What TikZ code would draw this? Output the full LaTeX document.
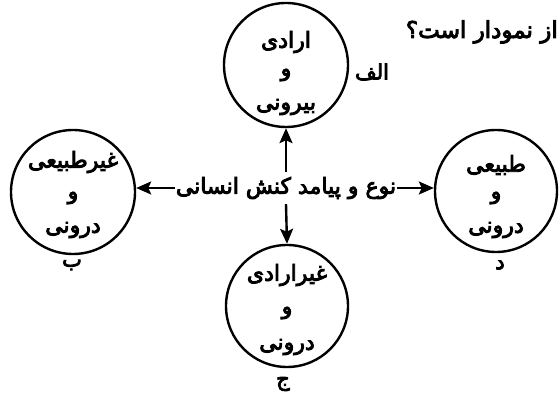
\documentclass[tikz,border=0pt]{standalone}
\usepackage{fontspec}
\TeXXeTstate=1
\newfontfamily\arfont[Script=Arabic,FakeBold=4]{DejaVu Sans}
\usetikzlibrary{arrows.meta}
\newcommand{\ar}[1]{\arfont\beginR #1\endR}
\begin{document}
\begin{tikzpicture}[x=1pt,y=1pt,
  circ/.style={draw,line width=2.4pt,circle,minimum size=#1,inner sep=0pt},
  txt/.style={inner sep=0pt,font=\fontsize{22}{24}\selectfont},
  lbl/.style={inner sep=0pt,font=\fontsize{21}{23}\selectfont},
  arr/.style={line width=2.4pt,-{Stealth[length=15pt,width=13pt,inset=3pt]}}]
\useasboundingbox (0,0) rectangle (559,398);
\fill[white] (0,0) rectangle (559,398);
% circles
\node[circ=124pt] (top) at (286,333) {};
\node[circ=124pt] (left) at (73,206) {};
\node[circ=122pt] (right) at (496,207) {};
\node[circ=122pt] (bot) at (287,92) {};
% center text
\node[inner sep=0pt,font=\fontsize{22}{24}\selectfont,minimum height=32pt,inner xsep=1pt] (c) at (286,210) {\ar{نوع و پیامد کنش انسانی}};
\draw[arr] (c.west) -- (left.east |- c.west);
\draw[arr] (c.east) -- (right.west |- c.east);
\draw[arr] (c.north) -- (top.south);
\draw[arr] (c.south) -- (bot.north);
% top circle text
\node[txt] (t1) at (286,356) {\ar{ارادی}};
\node[txt] (t2) at (286,323) {\ar{و}};
\node[txt] (t3) at (286,291) {\ar{بیرونی}};
% left circle
\node[txt] (l1) at (73,236) {\ar{غیرطبیعی}};
\node[txt] (l2) at (73,200) {\ar{و}};
\node[txt] (l3) at (73,168) {\ar{درونی}};
% right circle
\node[txt] (r1) at (496,233) {\ar{طبیعی}};
\node[txt] (r2) at (496,200) {\ar{و}};
\node[txt] (r3) at (496,168) {\ar{درونی}};
% bottom circle
\node[txt] (b1) at (287,123) {\ar{غیرارادی}};
\node[txt] (b2) at (287,85) {\ar{و}};
\node[txt] (b3) at (287,51) {\ar{درونی}};
% labels
\node[lbl] (la) at (372,326) {\ar{الف}};
\node[lbl] (lb) at (72,133) {\ar{ب}};
\node[lbl] (ld) at (500,133) {\ar{د}};
\node[lbl] (lj) at (283,14) {\ar{ج}};
% title
\node[inner sep=0pt,anchor=east,font=\fontsize{23}{25}\selectfont] (title) at (558,366) {\ar{از نمودار است؟}};
\end{tikzpicture}
\end{document}
